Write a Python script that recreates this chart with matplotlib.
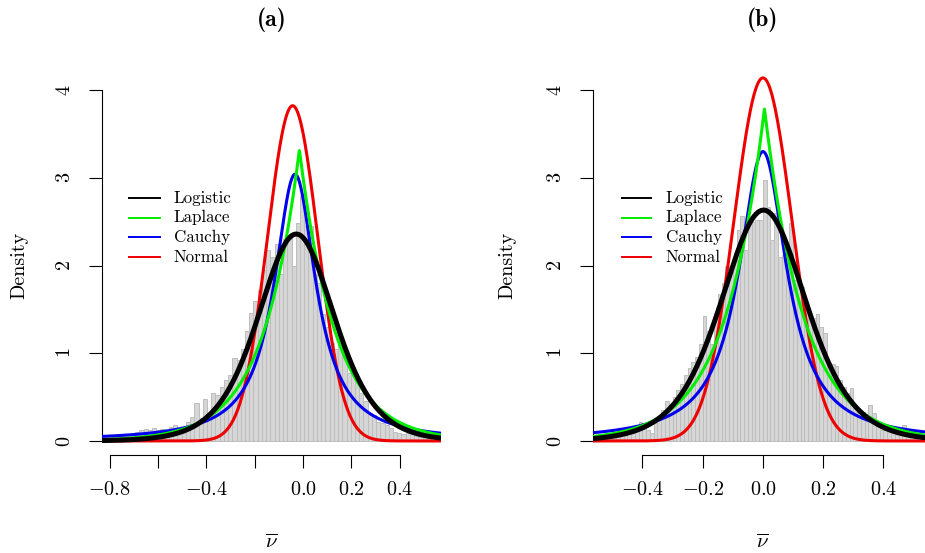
import numpy as np
import matplotlib
matplotlib.use("Agg")
import matplotlib.pyplot as plt
from matplotlib.lines import Line2D

plt.rcParams["mathtext.fontset"] = "cm"
plt.rcParams["font.family"] = "cmr10"
plt.rcParams["axes.unicode_minus"] = False

# ---------------- data ----------------
# panel (a) histogram: first break and bin width, then densities
hist_a_start = -0.80
hist_a_width = 0.0175
hist_a_density = [
    0.05, 0.06, 0.05, 0.07, 0.06, 0.08, 0.10, 0.13, 0.14, 0.13,
    0.15, 0.12, 0.14, 0.08, 0.16, 0.18, 0.15, 0.09, 0.22, 0.27,
    0.43, 0.26, 0.48, 0.30, 0.55, 0.52, 0.62, 0.70, 0.75, 0.94,
    0.92, 1.05, 1.25, 1.46, 1.60, 1.72, 1.95, 2.18, 2.10, 2.25,
    1.90, 2.30, 2.32, 2.00, 2.48, 2.79, 2.45, 2.45, 1.90, 1.80,
    1.45, 1.30, 1.12, 1.05, 1.17, 0.95, 0.77, 0.75, 0.70, 0.55,
    0.45, 0.32, 0.30, 0.22, 0.20, 0.18, 0.15, 0.10, 0.09, 0.08,
    0.09, 0.16, 0.06, 0.05, 0.04, 0.03,
]

# panel (b) histogram
hist_b_start = -0.5625
hist_b_width = 0.0125
hist_b_density = [
    0.06, 0.05, 0.07, 0.06, 0.08, 0.07, 0.09, 0.08, 0.10, 0.09,
    0.12, 0.15, 0.22, 0.18, 0.12, 0.09, 0.20, 0.25, 0.35, 0.45,
    0.42, 0.50, 0.58, 0.65, 0.75, 0.83, 0.90, 0.96, 1.10, 1.42,
    1.25, 1.11, 1.45, 1.68, 1.80, 1.99, 1.95, 2.10, 2.41, 2.56,
    2.18, 2.52, 2.50, 2.52, 2.52, 2.98, 2.67, 2.29, 2.60, 2.10,
    2.12, 2.05, 2.48, 1.84, 1.80, 1.75, 1.55, 1.46, 1.40, 1.45,
    1.30, 1.23, 0.89, 0.88, 0.85, 0.70, 0.62, 0.55, 0.60, 0.40,
    0.32, 0.33, 0.30, 0.41, 0.32, 0.18, 0.13, 0.12, 0.14, 0.12,
    0.10, 0.13, 0.18, 0.08, 0.06, 0.05, 0.04, 0.03,
]

# fitted (location, scale) of each density
dist_names = ["Logistic", "Laplace", "Cauchy", "Normal"]
fit_a = {"Logistic": (-0.028, 0.106), "Laplace": (-0.015, 0.1506),
         "Cauchy": (-0.033, 0.1047), "Normal": (-0.043, 0.1044)}
fit_b = {"Logistic": (0.002, 0.095), "Laplace": (0.005, 0.132),
         "Cauchy": (0.000, 0.0965), "Normal": (0.000, 0.0964)}

xticks_a = [-0.8, -0.6, -0.4, -0.2, 0.0, 0.2, 0.4]
xticklabels_a = ["$-0.8$", "", "$-0.4$", "", "$0.0$", "$0.2$", "$0.4$"]
xticks_b = [-0.4, -0.2, 0.0, 0.2, 0.4]
xticklabels_b = ["$-0.4$", "$-0.2$", "$0.0$", "$0.2$", "$0.4$"]
yticks = [0, 1, 2, 3, 4]
panel_titles = ["(a)", "(b)"]

# ---------------- densities ----------------
def pdf(name, x, loc, scale):
    z = (x - loc) / scale
    if name == "Logistic":
        e = np.exp(-np.abs(z))
        return e / (scale * (1 + e) ** 2)
    if name == "Laplace":
        return np.exp(-np.abs(z)) / (2 * scale)
    if name == "Cauchy":
        return 1.0 / (np.pi * scale * (1 + z ** 2))
    return np.exp(-0.5 * z ** 2) / (scale * np.sqrt(2 * np.pi))

colors = {"Logistic": "black", "Laplace": "#00ee00", "Cauchy": "#0000ee", "Normal": "#ee0000"}
widths = {"Logistic": 3.6, "Laplace": 2.2, "Cauchy": 2.2, "Normal": 2.2}
draw_order = ["Normal", "Cauchy", "Laplace", "Logistic"]

# ---------------- layout (pixels) ----------------
W, H = 925, 553
fig = plt.figure(figsize=(W / 100, H / 100), dpi=100)

def fx(x):
    return x / W

def fy(y):
    return 1 - y / H

top_px, bot_px = 76, 455
panels = [
    dict(left=102, right=441, xlim=(-0.832, 0.571), start=hist_a_start, width=hist_a_width,
         dens=hist_a_density, fit=fit_a, xt=xticks_a, xtl=xticklabels_a, title=panel_titles[0],
         leg_x=(129, 160, 174), ylab_x=19),
    dict(left=593, right=932, xlim=(-0.564, 0.561), start=hist_b_start, width=hist_b_width,
         dens=hist_b_density, fit=fit_b, xt=xticks_b, xtl=xticklabels_b, title=panel_titles[1],
         leg_x=(622, 651, 666), ylab_x=507),
]

for p in panels:
    ax = fig.add_axes([fx(p["left"]), fy(bot_px), (p["right"] - p["left"]) / W, (bot_px - top_px) / H])
    ax.set_xlim(*p["xlim"])
    ax.set_ylim(-0.16, 4.16)
    ax.patch.set_alpha(0)

    n = len(p["dens"])
    centers = p["start"] + p["width"] * (np.arange(n) + 0.5)
    ax.bar(centers, p["dens"], width=p["width"], color="#d6d6d6", edgecolor="#bdbdbd",
           linewidth=0.7, zorder=1)

    xs = np.linspace(p["xlim"][0], p["xlim"][1], 800)
    for name in draw_order:
        loc, scale = p["fit"][name]
        ax.plot(xs, pdf(name, xs, loc, scale), color=colors[name], lw=widths[name],
                solid_capstyle="butt", zorder=3)

    for s in ["top", "right"]:
        ax.spines[s].set_visible(False)
    ax.spines["left"].set_bounds(0, 4)
    ax.spines["bottom"].set_bounds(p["xt"][0], p["xt"][-1])
    for s in ["left", "bottom"]:
        ax.spines[s].set_linewidth(0.8)

    ax.set_xticks(p["xt"])
    ax.set_xticklabels(p["xtl"])
    ax.set_yticks(yticks)
    ax.set_yticklabels([f"${v}$" for v in yticks], rotation=90, va="center")
    ax.tick_params(axis="both", direction="out", length=9.4, width=0.8, labelsize=14.5)
    ax.tick_params(axis="x", pad=9)
    ax.tick_params(axis="y", pad=11)

    cx = (p["left"] + p["right"]) / 2
    fig.text(fx(cx), fy(20), p["title"], fontfamily="cmb10", fontsize=17, ha="center", va="center")
    fig.text(fx(cx), fy(543), r"$\overline{\nu}$", fontsize=15, ha="center", va="center")
    fig.text(fx(p["ylab_x"]), fy(265), "Density", fontsize=14.5, rotation=90, ha="center", va="center")

    x0, x1, xt = p["leg_x"]
    for k, name in enumerate(dist_names):
        yy = 198 + 19.7 * k
        fig.add_artist(Line2D([fx(x0), fx(x1)], [fy(yy), fy(yy)], transform=fig.transFigure,
                              color=colors[name], lw=1.4))
        fig.text(fx(xt), fy(yy), name, fontsize=12.2, ha="left", va="center")

fig.savefig("out.png", dpi=100)
